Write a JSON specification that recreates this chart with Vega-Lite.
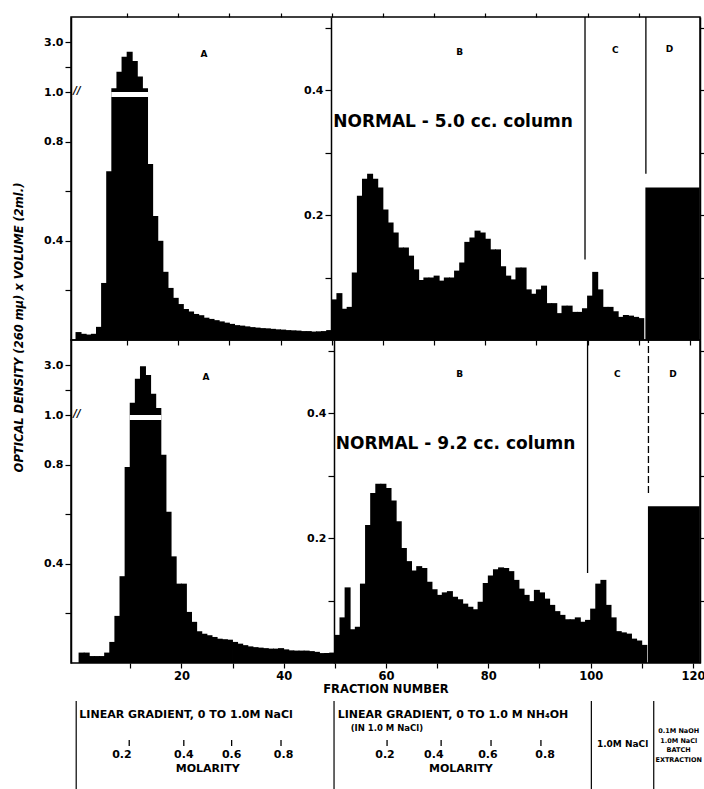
{
  "$schema": "https://vega.github.io/schema/vega-lite/v6.json",
  "background": "white",
  "padding": {"left": 12, "top": 11, "right": 0, "bottom": 0},
  "bounds": "flush",
  "spacing": 0,
  "config": {
    "font": "DejaVu Sans",
    "view": {"stroke": "black", "strokeWidth": 1.5},
    "axis": {"domainColor": "black", "tickColor": "black", "labelColor": "black", "titleColor": "black", "grid": false, "labelFont": "DejaVu Sans", "titleFont": "DejaVu Sans", "labelFontWeight": "bold", "titleFontWeight": "bold", "domainWidth": 1.5, "tickWidth": 1.2},
    "text": {"font": "DejaVu Sans", "fontWeight": "bold", "color": "black"}
  },
  "datasets": {
    "topLeft": [
      {"fraction":1,"od":0.032},{"fraction":2,"od":0.025},{"fraction":3,"od":0.022},{"fraction":4,"od":0.025},{"fraction":5,"od":0.053},
      {"fraction":6,"od":0.23},{"fraction":7,"od":0.68},{"fraction":8,"od":1.15},{"fraction":9,"od":1.81},{"fraction":10,"od":2.41},
      {"fraction":11,"od":2.61},{"fraction":12,"od":2.24},{"fraction":13,"od":1.62},{"fraction":14,"od":1.15},{"fraction":15,"od":0.71},
      {"fraction":16,"od":0.5},{"fraction":17,"od":0.4},{"fraction":18,"od":0.275},{"fraction":19,"od":0.21},{"fraction":20,"od":0.17},
      {"fraction":21,"od":0.145},{"fraction":22,"od":0.125},{"fraction":23,"od":0.115},{"fraction":24,"od":0.105},{"fraction":25,"od":0.1},
      {"fraction":26,"od":0.09},{"fraction":27,"od":0.085},{"fraction":28,"od":0.08},{"fraction":29,"od":0.075},{"fraction":30,"od":0.07},
      {"fraction":31,"od":0.065},{"fraction":32,"od":0.06},{"fraction":33,"od":0.058},{"fraction":34,"od":0.055},{"fraction":35,"od":0.052},
      {"fraction":36,"od":0.05},{"fraction":37,"od":0.048},{"fraction":38,"od":0.047},{"fraction":39,"od":0.045},{"fraction":40,"od":0.043},
      {"fraction":41,"od":0.042},{"fraction":42,"od":0.04},{"fraction":43,"od":0.039},{"fraction":44,"od":0.038},{"fraction":45,"od":0.036},
      {"fraction":46,"od":0.036},{"fraction":47,"od":0.034},{"fraction":48,"od":0.035},{"fraction":49,"od":0.036},{"fraction":50,"od":0.04}
    ],
    "topRight": [
      {"fraction":51,"od":0.065},{"fraction":52,"od":0.075},{"fraction":53,"od":0.05},{"fraction":54,"od":0.053},{"fraction":55,"od":0.108},
      {"fraction":56,"od":0.231},{"fraction":57,"od":0.258},{"fraction":58,"od":0.266},{"fraction":59,"od":0.258},{"fraction":60,"od":0.244},
      {"fraction":61,"od":0.209},{"fraction":62,"od":0.188},{"fraction":63,"od":0.172},{"fraction":64,"od":0.148},{"fraction":65,"od":0.148},
      {"fraction":66,"od":0.135},{"fraction":67,"od":0.113},{"fraction":68,"od":0.096},{"fraction":69,"od":0.1},{"fraction":70,"od":0.1},
      {"fraction":71,"od":0.103},{"fraction":72,"od":0.095},{"fraction":73,"od":0.1},{"fraction":74,"od":0.1},{"fraction":75,"od":0.111},
      {"fraction":76,"od":0.124},{"fraction":77,"od":0.157},{"fraction":78,"od":0.164},{"fraction":79,"od":0.175},{"fraction":80,"od":0.172},
      {"fraction":81,"od":0.162},{"fraction":82,"od":0.145},{"fraction":83,"od":0.145},{"fraction":84,"od":0.118},{"fraction":85,"od":0.103},
      {"fraction":86,"od":0.097},{"fraction":87,"od":0.116},{"fraction":88,"od":0.116},{"fraction":89,"od":0.081},{"fraction":90,"od":0.074},
      {"fraction":91,"od":0.081},{"fraction":92,"od":0.087},{"fraction":93,"od":0.059},{"fraction":94,"od":0.059},{"fraction":95,"od":0.043},
      {"fraction":96,"od":0.055},{"fraction":97,"od":0.055},{"fraction":98,"od":0.045},{"fraction":99,"od":0.045},{"fraction":100,"od":0.051},
      {"fraction":101,"od":0.071},{"fraction":102,"od":0.109},{"fraction":103,"od":0.081},{"fraction":104,"od":0.053},{"fraction":105,"od":0.053},
      {"fraction":106,"od":0.046},{"fraction":107,"od":0.037},{"fraction":108,"od":0.04},{"fraction":109,"od":0.039},{"fraction":110,"od":0.037},
      {"fraction":111,"od":0.035}
    ],
    "botLeft": [
      {"fraction":1,"od":0.042},{"fraction":2,"od":0.042},{"fraction":3,"od":0.028},{"fraction":4,"od":0.028},{"fraction":5,"od":0.028},
      {"fraction":6,"od":0.042},{"fraction":7,"od":0.085},{"fraction":8,"od":0.19},{"fraction":9,"od":0.35},{"fraction":10,"od":0.79},
      {"fraction":11,"od":1.49},{"fraction":12,"od":2.45},{"fraction":13,"od":2.95},{"fraction":14,"od":2.6},{"fraction":15,"od":1.85},
      {"fraction":16,"od":1.28},{"fraction":17,"od":0.84},{"fraction":18,"od":0.61},{"fraction":19,"od":0.43},{"fraction":20,"od":0.32},
      {"fraction":21,"od":0.32},{"fraction":22,"od":0.206},{"fraction":23,"od":0.166},{"fraction":24,"od":0.128},{"fraction":25,"od":0.118},
      {"fraction":26,"od":0.112},{"fraction":27,"od":0.105},{"fraction":28,"od":0.098},{"fraction":29,"od":0.096},{"fraction":30,"od":0.094},
      {"fraction":31,"od":0.085},{"fraction":32,"od":0.078},{"fraction":33,"od":0.072},{"fraction":34,"od":0.067},{"fraction":35,"od":0.064},
      {"fraction":36,"od":0.062},{"fraction":37,"od":0.06},{"fraction":38,"od":0.058},{"fraction":39,"od":0.058},{"fraction":40,"od":0.06},
      {"fraction":41,"od":0.055},{"fraction":42,"od":0.051},{"fraction":43,"od":0.05},{"fraction":44,"od":0.05},{"fraction":45,"od":0.05},
      {"fraction":46,"od":0.048},{"fraction":47,"od":0.045},{"fraction":48,"od":0.04},{"fraction":49,"od":0.04},{"fraction":50,"od":0.042}
    ],
    "botRight": [
      {"fraction":51,"od":0.045},{"fraction":52,"od":0.073},{"fraction":53,"od":0.121},{"fraction":54,"od":0.054},{"fraction":55,"od":0.058},
      {"fraction":56,"od":0.127},{"fraction":57,"od":0.221},{"fraction":58,"od":0.272},{"fraction":59,"od":0.287},{"fraction":60,"od":0.287},
      {"fraction":61,"od":0.28},{"fraction":62,"od":0.26},{"fraction":63,"od":0.227},{"fraction":64,"od":0.184},{"fraction":65,"od":0.163},
      {"fraction":66,"od":0.148},{"fraction":67,"od":0.155},{"fraction":68,"od":0.152},{"fraction":69,"od":0.13},{"fraction":70,"od":0.118},
      {"fraction":71,"od":0.109},{"fraction":72,"od":0.113},{"fraction":73,"od":0.115},{"fraction":74,"od":0.106},{"fraction":75,"od":0.102},
      {"fraction":76,"od":0.095},{"fraction":77,"od":0.09},{"fraction":78,"od":0.086},{"fraction":79,"od":0.098},{"fraction":80,"od":0.128},
      {"fraction":81,"od":0.14},{"fraction":82,"od":0.15},{"fraction":83,"od":0.153},{"fraction":84,"od":0.152},{"fraction":85,"od":0.147},
      {"fraction":86,"od":0.133},{"fraction":87,"od":0.119},{"fraction":88,"od":0.109},{"fraction":89,"od":0.099},{"fraction":90,"od":0.117},
      {"fraction":91,"od":0.113},{"fraction":92,"od":0.103},{"fraction":93,"od":0.093},{"fraction":94,"od":0.083},{"fraction":95,"od":0.077},
      {"fraction":96,"od":0.07},{"fraction":97,"od":0.07},{"fraction":98,"od":0.073},{"fraction":99,"od":0.066},{"fraction":100,"od":0.069},
      {"fraction":101,"od":0.087},{"fraction":102,"od":0.127},{"fraction":103,"od":0.133},{"fraction":104,"od":0.093},{"fraction":105,"od":0.073},
      {"fraction":106,"od":0.051},{"fraction":107,"od":0.049},{"fraction":108,"od":0.047},{"fraction":109,"od":0.039},{"fraction":110,"od":0.036},
      {"fraction":111,"od":0.029}
    ],
    "topD": [{"start":111.3,"end":121.9,"od":0.244}],
    "botD": [{"start":111.2,"end":121.3,"od":0.251}],
    "topBreak": [{"start":6.9,"end":14.1}],
    "botBreak": [{"start":9.9,"end":16.1}],
    "topLines": [{"fraction":99.5,"end":0.129,"style":"solid"},{"fraction":111.4,"end":0.266,"style":"solid"}],
    "botLines": [{"fraction":99.4,"end":0.144,"style":"solid"},{"fraction":111.3,"end":0.272,"style":"dashed"}],
    "topLabels": [{"fraction":25,"od":0.458,"label":"A"},{"fraction":75,"od":0.461,"label":"B"},{"fraction":105.4,"od":0.464,"label":"C"},{"fraction":116,"od":0.466,"label":"D"}],
    "botLabels": [{"fraction":24.8,"od":0.458,"label":"A"},{"fraction":74.4,"od":0.462,"label":"B"},{"fraction":105.2,"od":0.462,"label":"C"},{"fraction":116.1,"od":0.462,"label":"D"}],
    "topTitle": [{"fraction":73.7,"od":0.349,"label":"NORMAL - 5.0 cc. column"}],
    "botTitle": [{"fraction":73.6,"od":0.35,"label":"NORMAL - 9.2 cc. column"}],
    "columns": [{"fraction":1},{"fraction":50.6},{"fraction":100.1},{"fraction":112.1}],
    "molTicks": [{"fraction":11.2},{"fraction":21.7},{"fraction":30.9},{"fraction":40.4},{"fraction":60.8},{"fraction":71.2},{"fraction":80.8},{"fraction":90.4}],
    "molLabels": [{"fraction":9.8,"label":"0.2"},{"fraction":21.7,"label":"0.4"},{"fraction":30.9,"label":"0.6"},{"fraction":40.9,"label":"0.8"},{"fraction":60.4,"label":"0.2"},{"fraction":69.8,"label":"0.4"},{"fraction":80.2,"label":"0.6"},{"fraction":91.2,"label":"0.8"}],
    "headings": [{"fraction":1.6,"label":"LINEAR GRADIENT, 0 TO 1.0M NaCl"},{"fraction":51.3,"label":"LINEAR GRADIENT, 0 TO 1.0 M NH₄OH"}],
    "subHeading": [{"fraction":53.8,"label":"(IN 1.0 M NaCl)"}],
    "molTitles": [{"fraction":26.3,"label":"MOLARITY"},{"fraction":75,"label":"MOLARITY"}],
    "stepC": [{"fraction":106.1,"label":"1.0M NaCl"}],
    "stepD": [{"fraction":116.9,"label":"0.1M NaOH\n1.0M NaCl\nBATCH\nEXTRACTION"}]
  },
  "vconcat": [
    {
      "width": 629,
      "height": 323,
      "resolve": {"scale": {"y": "independent"}, "axis": {"x": "independent"}},
      "layer": [
        {
          "data": {"name": "topLeft"},
          "mark": {"type": "bar", "color": "black", "width": 6, "xOffset": -2.6},
          "encoding": {
            "x": {"field": "fraction", "type": "quantitative", "scale": {"domain": [0, 121], "nice": false, "zero": false},
                  "axis": {"orient": "bottom", "offset": 0, "values": [10,20,30,40,50,60,70,80,90,100,110,120], "labels": false, "tickSize": 5, "domain": false, "title": null}},
            "y": {"field": "od", "type": "quantitative", "scale": {"domain": [0, 1, 4], "range": [323, 75, 0], "nice": false, "zero": false},
                  "axis": {"orient": "left", "offset": 0, "values": [0.2,0.4,0.6,0.8,1,2,3], "labelExpr": "(datum.value==0.4||datum.value==0.8||datum.value==1||datum.value==3)?format(datum.value,'.1f'):''",
                           "tickSize": 6, "labelPadding": 2, "labelFontSize": 11,
                           "title": "OPTICAL DENSITY (260 mμ) x VOLUME (2ml.)", "titleX": -52, "titleY": 310, "titleAngle": 270,
                           "titleAlign": "center", "titleBaseline": "middle", "titleFontSize": 11.5, "titleFontStyle": "italic"}}
          }
        },
        {
          "data": {"name": "topBreak"},
          "mark": {"type": "rect", "color": "white"},
          "encoding": {
            "x": {"field": "start", "type": "quantitative", "scale": {"domain": [0, 121], "nice": false, "zero": false}, "axis": null},
            "x2": {"field": "end"},
            "y": {"datum": 0.98, "type": "quantitative", "scale": {"domain": [0, 1, 4], "range": [323, 75, 0], "nice": false, "zero": false}, "axis": null},
            "y2": {"datum": 1.0}
          }
        },
        {
          "data": {"values": [{"mark": "//"}]},
          "mark": {"type": "text", "fontSize": 10, "fontStyle": "italic", "dx": 1},
          "encoding": {
            "x": {"datum": 0, "type": "quantitative", "scale": {"domain": [0, 121], "nice": false, "zero": false}, "axis": null},
            "y": {"datum": 1.05, "type": "quantitative", "scale": {"domain": [0, 1, 4], "range": [323, 75, 0], "nice": false, "zero": false}, "axis": null},
            "text": {"field": "mark"}
          }
        },
        {
          "data": {"name": "topRight"},
          "mark": {"type": "bar", "color": "black", "width": 6, "xOffset": -2.6},
          "encoding": {
            "x": {"field": "fraction", "type": "quantitative", "scale": {"domain": [0, 121], "nice": false, "zero": false}, "axis": null},
            "y": {"field": "od", "type": "quantitative", "scale": {"domain": [0, 0.5168], "range": [323, 0], "nice": false, "zero": false},
                  "axis": {"orient": "left", "offset": -260, "values": [0.1,0.2,0.3,0.4,0.5], "labelExpr": "(datum.value==0.2||datum.value==0.4)?format(datum.value,'.1f'):''",
                           "tickSize": 6, "labelPadding": 2, "labelFontSize": 11, "title": null}}
          }
        },
        {
          "data": {"name": "topD"},
          "mark": {"type": "rect", "color": "black"},
          "encoding": {
            "x": {"field": "start", "type": "quantitative", "scale": {"domain": [0, 121], "nice": false, "zero": false}, "axis": null},
            "x2": {"field": "end"},
            "y": {"field": "od", "type": "quantitative", "scale": {"domain": [0, 0.5168], "range": [323, 0], "nice": false, "zero": false},
                  "axis": {"orient": "right", "offset": 0, "values": [0.1,0.2,0.3,0.4,0.5], "labels": false, "tickSize": 4, "title": null}},
            "y2": {"datum": 0}
          }
        },
        {
          "data": {"name": "topLines"},
          "mark": {"type": "rule", "color": "black", "strokeWidth": 1.3},
          "encoding": {
            "x": {"field": "fraction", "type": "quantitative", "scale": {"domain": [0, 121], "nice": false, "zero": false}, "axis": null},
            "y": {"field": "end", "type": "quantitative", "scale": {"domain": [0, 0.5168], "range": [323, 0], "nice": false, "zero": false}, "axis": null},
            "y2": {"datum": 0.5168},
            "strokeDash": {"field": "style", "type": "nominal", "scale": {"domain": ["solid", "dashed"], "range": [[1, 0], [7, 3]]}, "legend": null}
          }
        },
        {
          "data": {"name": "topLabels"},
          "mark": {"type": "text", "fontSize": 9, "baseline": "middle"},
          "encoding": {
            "x": {"field": "fraction", "type": "quantitative", "scale": {"domain": [0, 121], "nice": false, "zero": false},
                  "axis": {"orient": "top", "offset": 0, "values": [10,20,30,40,50,60,70,80,90,100,110], "labels": false, "tickSize": 4, "domain": false, "title": null}},
            "y": {"field": "od", "type": "quantitative", "scale": {"domain": [0, 0.5168], "range": [323, 0], "nice": false, "zero": false}, "axis": null},
            "text": {"field": "label"}
          }
        },
        {
          "data": {"name": "topTitle"},
          "mark": {"type": "text", "fontSize": 17, "baseline": "middle"},
          "encoding": {
            "x": {"field": "fraction", "type": "quantitative", "scale": {"domain": [0, 121], "nice": false, "zero": false}, "axis": null},
            "y": {"field": "od", "type": "quantitative", "scale": {"domain": [0, 0.5168], "range": [323, 0], "nice": false, "zero": false}, "axis": null},
            "text": {"field": "label"}
          }
        }
      ]
    },
    {
      "width": 629,
      "height": 323,
      "resolve": {"scale": {"y": "independent"}, "axis": {"x": "independent"}},
      "layer": [
        {
          "data": {"name": "botLeft"},
          "mark": {"type": "bar", "color": "black", "width": 6, "xOffset": -2.6},
          "encoding": {
            "x": {"field": "fraction", "type": "quantitative", "scale": {"domain": [-0.6, 120.4], "nice": false, "zero": false},
                  "axis": {"orient": "bottom", "offset": 0, "values": [10,20,30,40,50,60,70,80,90,100,110,120], "labelExpr": "datum.value % 20 == 0 ? datum.value : ''",
                           "tickSize": 5, "labelPadding": 2, "labelFontSize": 11.5, "domain": false,
                           "title": "FRACTION NUMBER", "titleFontSize": 11.5, "titlePadding": 2}},
            "y": {"field": "od", "type": "quantitative", "scale": {"domain": [0, 1, 4], "range": [323, 75, 0], "nice": false, "zero": false},
                  "axis": {"orient": "left", "offset": 0, "values": [0.2,0.4,0.6,0.8,1,2,3], "labelExpr": "(datum.value==0.4||datum.value==0.8||datum.value==1||datum.value==3)?format(datum.value,'.1f'):''",
                           "tickSize": 6, "labelPadding": 2, "labelFontSize": 11, "title": null}}
          }
        },
        {
          "data": {"name": "botBreak"},
          "mark": {"type": "rect", "color": "white"},
          "encoding": {
            "x": {"field": "start", "type": "quantitative", "scale": {"domain": [-0.6, 120.4], "nice": false, "zero": false}, "axis": null},
            "x2": {"field": "end"},
            "y": {"datum": 0.98, "type": "quantitative", "scale": {"domain": [0, 1, 4], "range": [323, 75, 0], "nice": false, "zero": false}, "axis": null},
            "y2": {"datum": 1.0}
          }
        },
        {
          "data": {"values": [{"mark": "//"}]},
          "mark": {"type": "text", "fontSize": 10, "fontStyle": "italic", "dx": 1},
          "encoding": {
            "x": {"datum": -0.6, "type": "quantitative", "scale": {"domain": [-0.6, 120.4], "nice": false, "zero": false}, "axis": null},
            "y": {"datum": 1.05, "type": "quantitative", "scale": {"domain": [0, 1, 4], "range": [323, 75, 0], "nice": false, "zero": false}, "axis": null},
            "text": {"field": "mark"}
          }
        },
        {
          "data": {"name": "botRight"},
          "mark": {"type": "bar", "color": "black", "width": 6, "xOffset": -2.6},
          "encoding": {
            "x": {"field": "fraction", "type": "quantitative", "scale": {"domain": [-0.6, 120.4], "nice": false, "zero": false}, "axis": null},
            "y": {"field": "od", "type": "quantitative", "scale": {"domain": [0, 0.5168], "range": [323, 0], "nice": false, "zero": false},
                  "axis": {"orient": "left", "offset": -263, "values": [0.1,0.2,0.3,0.4,0.5], "labelExpr": "(datum.value==0.2||datum.value==0.4)?format(datum.value,'.1f'):''",
                           "tickSize": 6, "labelPadding": 2, "labelFontSize": 11, "title": null}}
          }
        },
        {
          "data": {"name": "botD"},
          "mark": {"type": "rect", "color": "black"},
          "encoding": {
            "x": {"field": "start", "type": "quantitative", "scale": {"domain": [-0.6, 120.4], "nice": false, "zero": false}, "axis": null},
            "x2": {"field": "end"},
            "y": {"field": "od", "type": "quantitative", "scale": {"domain": [0, 0.5168], "range": [323, 0], "nice": false, "zero": false},
                  "axis": {"orient": "right", "offset": 0, "values": [0.1,0.2,0.3,0.4,0.5], "labels": false, "tickSize": 4, "title": null}},
            "y2": {"datum": 0}
          }
        },
        {
          "data": {"name": "botLines"},
          "mark": {"type": "rule", "color": "black", "strokeWidth": 1.3},
          "encoding": {
            "x": {"field": "fraction", "type": "quantitative", "scale": {"domain": [-0.6, 120.4], "nice": false, "zero": false}, "axis": null},
            "y": {"field": "end", "type": "quantitative", "scale": {"domain": [0, 0.5168], "range": [323, 0], "nice": false, "zero": false}, "axis": null},
            "y2": {"datum": 0.5168},
            "strokeDash": {"field": "style", "type": "nominal", "scale": {"domain": ["solid", "dashed"], "range": [[1, 0], [7, 3]]}, "legend": null}
          }
        },
        {
          "data": {"name": "botLabels"},
          "mark": {"type": "text", "fontSize": 9, "baseline": "middle"},
          "encoding": {
            "x": {"field": "fraction", "type": "quantitative", "scale": {"domain": [-0.6, 120.4], "nice": false, "zero": false}, "axis": null},
            "y": {"field": "od", "type": "quantitative", "scale": {"domain": [0, 0.5168], "range": [323, 0], "nice": false, "zero": false}, "axis": null},
            "text": {"field": "label"}
          }
        },
        {
          "data": {"name": "botTitle"},
          "mark": {"type": "text", "fontSize": 17, "baseline": "middle"},
          "encoding": {
            "x": {"field": "fraction", "type": "quantitative", "scale": {"domain": [-0.6, 120.4], "nice": false, "zero": false}, "axis": null},
            "y": {"field": "od", "type": "quantitative", "scale": {"domain": [0, 0.5168], "range": [323, 0], "nice": false, "zero": false}, "axis": null},
            "text": {"field": "label"}
          }
        }
      ]
    },
    {
      "width": 629,
      "height": 128,
      "view": {"stroke": null},
      "layer": [
        {
          "data": {"name": "columns"},
          "mark": {"type": "rule", "color": "black", "strokeWidth": 1.2},
          "encoding": {
            "x": {"field": "fraction", "type": "quantitative", "scale": {"domain": [0, 121], "nice": false, "zero": false}, "axis": null},
            "y": {"datum": 38, "type": "quantitative", "scale": {"domain": [0, 128], "range": [0, 128], "nice": false, "zero": false}, "axis": null},
            "y2": {"datum": 128}
          }
        },
        {
          "data": {"name": "molTicks"},
          "mark": {"type": "rule", "color": "black", "strokeWidth": 1.3},
          "encoding": {
            "x": {"field": "fraction", "type": "quantitative", "scale": {"domain": [0, 121], "nice": false, "zero": false}, "axis": null},
            "y": {"datum": 77, "type": "quantitative", "scale": {"domain": [0, 128], "range": [0, 128], "nice": false, "zero": false}, "axis": null},
            "y2": {"datum": 83}
          }
        },
        {
          "data": {"name": "headings"},
          "mark": {"type": "text", "fontSize": 11, "align": "left", "baseline": "middle"},
          "encoding": {
            "x": {"field": "fraction", "type": "quantitative", "scale": {"domain": [0, 121], "nice": false, "zero": false}, "axis": null},
            "y": {"datum": 52, "type": "quantitative", "scale": {"domain": [0, 128], "range": [0, 128], "nice": false, "zero": false}, "axis": null},
            "text": {"field": "label"}
          }
        },
        {
          "data": {"name": "subHeading"},
          "mark": {"type": "text", "fontSize": 8.5, "align": "left", "baseline": "middle"},
          "encoding": {
            "x": {"field": "fraction", "type": "quantitative", "scale": {"domain": [0, 121], "nice": false, "zero": false}, "axis": null},
            "y": {"datum": 65, "type": "quantitative", "scale": {"domain": [0, 128], "range": [0, 128], "nice": false, "zero": false}, "axis": null},
            "text": {"field": "label"}
          }
        },
        {
          "data": {"name": "molLabels"},
          "mark": {"type": "text", "fontSize": 11, "baseline": "middle"},
          "encoding": {
            "x": {"field": "fraction", "type": "quantitative", "scale": {"domain": [0, 121], "nice": false, "zero": false}, "axis": null},
            "y": {"datum": 92, "type": "quantitative", "scale": {"domain": [0, 128], "range": [0, 128], "nice": false, "zero": false}, "axis": null},
            "text": {"field": "label"}
          }
        },
        {
          "data": {"name": "molTitles"},
          "mark": {"type": "text", "fontSize": 11, "baseline": "middle"},
          "encoding": {
            "x": {"field": "fraction", "type": "quantitative", "scale": {"domain": [0, 121], "nice": false, "zero": false}, "axis": null},
            "y": {"datum": 106, "type": "quantitative", "scale": {"domain": [0, 128], "range": [0, 128], "nice": false, "zero": false}, "axis": null},
            "text": {"field": "label"}
          }
        },
        {
          "data": {"name": "stepC"},
          "mark": {"type": "text", "fontSize": 9, "baseline": "middle"},
          "encoding": {
            "x": {"field": "fraction", "type": "quantitative", "scale": {"domain": [0, 121], "nice": false, "zero": false}, "axis": null},
            "y": {"datum": 81, "type": "quantitative", "scale": {"domain": [0, 128], "range": [0, 128], "nice": false, "zero": false}, "axis": null},
            "text": {"field": "label"}
          }
        },
        {
          "data": {"name": "stepD"},
          "mark": {"type": "text", "fontSize": 6.5, "baseline": "top", "lineBreak": "\n", "lineHeight": 9.5},
          "encoding": {
            "x": {"field": "fraction", "type": "quantitative", "scale": {"domain": [0, 121], "nice": false, "zero": false}, "axis": null},
            "y": {"datum": 65, "type": "quantitative", "scale": {"domain": [0, 128], "range": [0, 128], "nice": false, "zero": false}, "axis": null},
            "text": {"field": "label"}
          }
        }
      ]
    }
  ]
}
